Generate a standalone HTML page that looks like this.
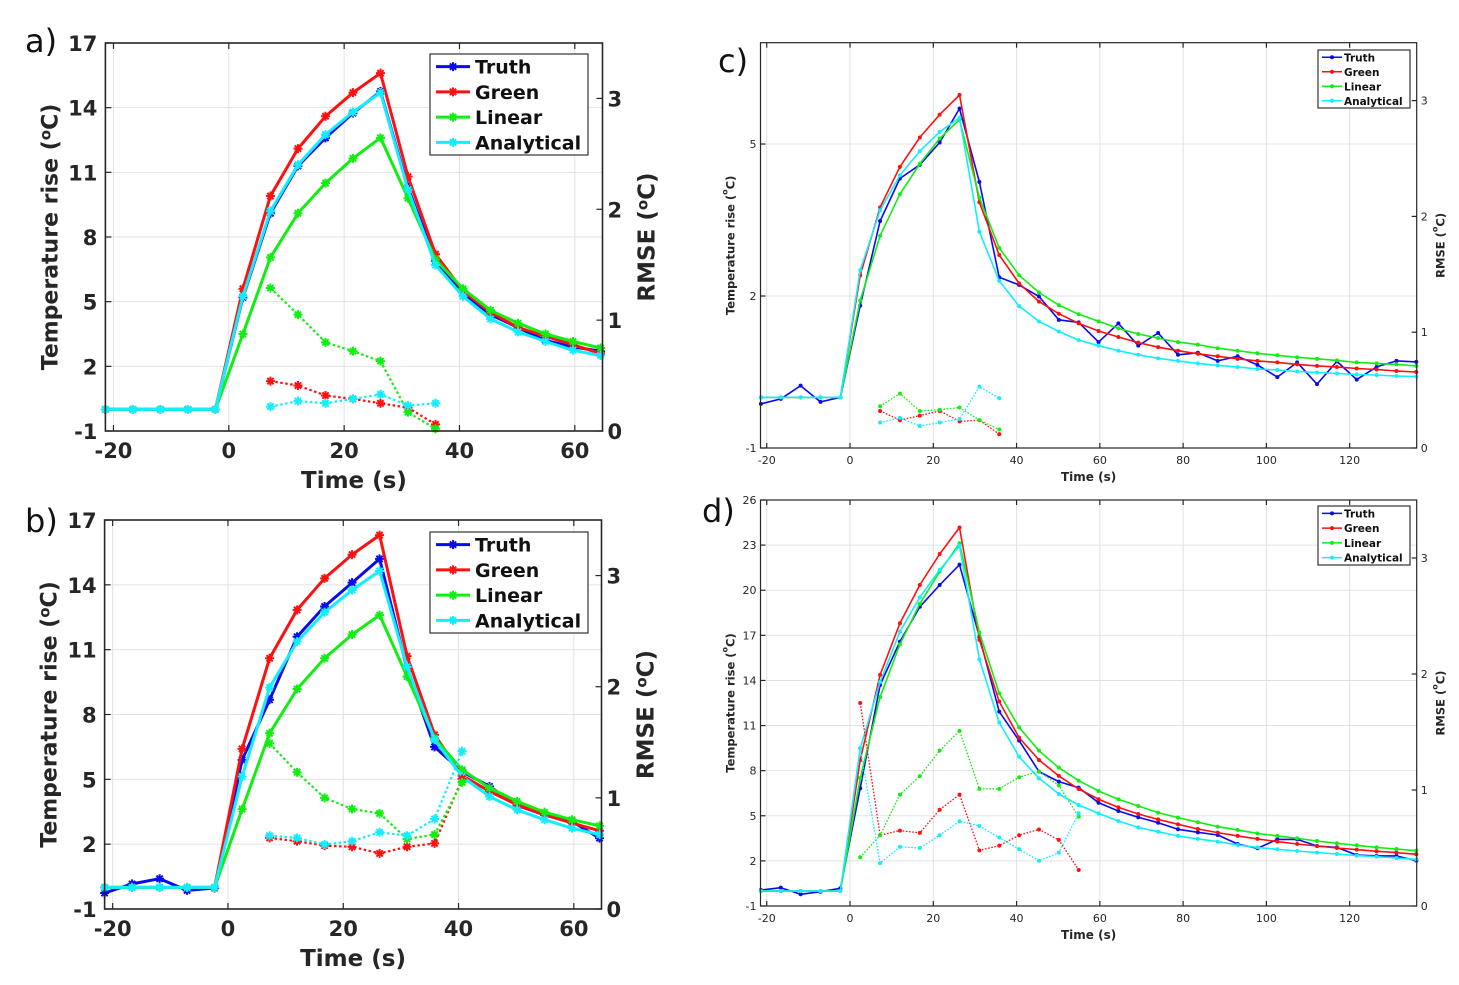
<!DOCTYPE html>
<html><head><meta charset="utf-8"><style>
html,body{margin:0;padding:0;background:#fff;}
svg{display:block;font-family:"DejaVu Sans","Liberation Sans",sans-serif;}
</style></head><body>
<svg id="fig" width="1459" height="985" viewBox="0 0 1459 985" xmlns="http://www.w3.org/2000/svg">
<rect width="1459" height="985" fill="#fff"/>
</svg>
<script>
const times = [-21.4,-16.63,-11.86,-7.09,-2.32,2.45,7.22,11.99,16.76,21.53,26.3,31.07,35.84,40.61,45.38,50.15,54.92,59.69,64.46,69.23,74,78.77,83.54,88.31,93.08,97.85,102.62,107.39,112.16,116.93,121.7,126.47,131.24,136.01];
const abXTicks=[-20,0,20,40,60];
const abYTicks=[-1,2,5,8,11,14,17];
const abRTicks=[0,1,2,3];
const cdXTicks=[-20,0,20,40,60,80,100,120];
const cYTicks=[-1,2,5];
const dYTicks=[-1,2,5,8,11,14,17,20,23,26];
const cdRTicks=[0,1,2,3];
const seriesNames=["Truth","Green","Linear","Analytical"];

// Panel a
const aTruth=[0,0,0,0,0,5.2,9.1,11.3,12.6,13.75,14.75,10.3,6.9,5.4,4.4,3.8,3.2,2.9,2.7];
const aGreen=[0,0,0,0,0,5.6,9.9,12.1,13.6,14.7,15.6,10.8,7.2,5.5,4.5,3.8,3.4,3.0,2.6];
const aLinear=[0,0,0,0,0,3.5,7.05,9.1,10.5,11.65,12.6,9.8,6.95,5.6,4.6,4.0,3.5,3.15,2.85];
const aAnalytical=[0,0,0,0,0,5.25,9.2,11.35,12.75,13.8,14.7,10.2,6.7,5.25,4.2,3.6,3.15,2.75,2.5];
const aRmseGreen=[1.29,1.05,0.80,0.72,0.63,0.17,0.02];
const aRmseRed=[0.45,0.41,0.32,0.29,0.25,0.21,0.06];
const aRmseCyan=[0.22,0.27,0.25,0.29,0.33,0.23,0.25];
// Panel b
const bTruth=[-0.26,0.16,0.40,-0.14,-0.03,5.9,8.68,11.6,13.0,14.1,15.2,10.1,6.5,5.36,4.67,3.8,3.35,3.05,2.28];
const bGreen=[0,0,0,0,0,6.41,10.6,12.84,14.3,15.4,16.3,10.7,7.06,5.18,4.44,3.82,3.36,2.98,2.62];
const bLinear=[0,0,0,0,0,3.62,7.13,9.18,10.6,11.7,12.6,9.75,6.9,5.44,4.6,3.98,3.48,3.13,2.85];
const bAnalytical=[0,0,0,0,0,5.13,9.25,11.37,12.73,13.76,14.64,10.2,6.83,5.13,4.2,3.59,3.13,2.74,2.44];
const bRmseGreen=[1.49,1.23,1.0,0.90,0.86,0.63,0.67,1.14];
const bRmseRed=[0.64,0.61,0.57,0.56,0.50,0.56,0.59,1.17];
const bRmseCyan=[0.66,0.64,0.58,0.61,0.69,0.66,0.81,1.42];
// Panel c
const cTruth=[-0.13,-0.03,0.23,-0.09,0,1.81,3.48,4.32,4.59,5.03,5.7,4.25,2.37,2.22,1.99,1.53,1.48,1.09,1.46,1.02,1.27,0.84,0.88,0.72,0.81,0.64,0.40,0.69,0.26,0.71,0.35,0.60,0.72,0.70];
const cGreen=[0,0,0,0,0,2.41,3.75,4.55,5.13,5.58,5.97,3.85,2.81,2.25,1.89,1.65,1.46,1.31,1.19,1.08,0.99,0.92,0.86,0.81,0.76,0.72,0.69,0.65,0.62,0.60,0.57,0.55,0.52,0.50];
const cLinear=[0,0,0,0,0,1.91,3.19,4.01,4.61,5.11,5.48,3.94,2.95,2.41,2.07,1.82,1.64,1.50,1.36,1.25,1.17,1.09,1.04,0.97,0.92,0.87,0.83,0.79,0.76,0.73,0.69,0.67,0.65,0.62];
const cAnalytical=[0,0,0,0,0,2.51,3.69,4.38,4.86,5.24,5.52,3.27,2.30,1.80,1.50,1.30,1.13,1.02,0.92,0.84,0.77,0.72,0.67,0.63,0.60,0.56,0.54,0.51,0.49,0.47,0.45,0.44,0.42,0.41];
const cRmseGreen=[0.36,0.47,0.32,0.33,0.35,0.24,0.16];
const cRmseRed=[0.32,0.24,0.28,0.32,0.23,0.24,0.12];
const cRmseCyan=[0.22,0.26,0.19,0.22,0.25,0.53,0.43];
// Panel d
const dTruth=[0.06,0.22,-0.22,-0.05,0.18,6.83,13.7,16.58,18.9,20.35,21.7,16.9,11.93,10.0,7.94,7.27,6.87,5.87,5.32,4.9,4.54,4.1,3.9,3.72,3.12,2.84,3.43,3.43,2.99,2.9,2.39,2.33,2.33,2.02];
const dGreen=[0,0,0,0,0,8.71,14.37,17.8,20.35,22.41,24.17,16.7,12.6,10.2,8.71,7.65,6.78,6.1,5.56,5.12,4.76,4.43,4.12,3.88,3.66,3.46,3.28,3.12,2.99,2.86,2.75,2.64,2.55,2.44];
const dLinear=[0,0,0,0,0,7.5,12.9,16.4,19.1,21.24,23.12,17.18,13.15,10.88,9.33,8.2,7.34,6.65,6.1,5.65,5.21,4.88,4.57,4.28,4.06,3.83,3.66,3.5,3.32,3.17,3.04,2.9,2.79,2.68];
const dAnalytical=[0,0,0,0,0,9.49,13.9,17.25,19.53,21.35,22.95,15.4,11.2,8.93,7.49,6.45,5.72,5.16,4.65,4.23,3.94,3.66,3.46,3.28,3.06,2.9,2.77,2.66,2.55,2.46,2.35,2.28,2.19,2.1];
const dRmseRed=[1.75,0.61,0.65,0.63,0.83,0.96,0.48,0.52,0.61,0.66,0.57,0.31];
const dRmseGreen=[0.42,0.61,0.96,1.12,1.34,1.51,1.01,1.01,1.11,1.16,1.04,0.77];
const dRmseCyan=[1.36,0.37,0.51,0.5,0.61,0.73,0.69,0.59,0.49,0.39,0.46,0.8];

const COLORS={Truth:"#0a0af0",Green:"#ff0f0f",Linear:"#11ee11",Analytical:"#11eeff"};
const NS="http://www.w3.org/2000/svg";
const svg=document.getElementById('fig');
function mk(tag,attrs,parent){const e=document.createElementNS(NS,tag);for(const k in attrs)e.setAttribute(k,attrs[k]);(parent||svg).appendChild(e);return e;}

function panel(cfg){
  const g=mk('g',{});
  
  
  const xs=v=>cfg.L+(v-cfg.xmin)/(cfg.xmax-cfg.xmin)*(cfg.R-cfg.L);
  const ys=v=>cfg.B-(v-cfg.ymin)/(cfg.ymax-cfg.ymin)*(cfg.B-cfg.T);
  const rs=v=>cfg.B-v/cfg.rmax*(cfg.B-cfg.T);
  const big=cfg.big;
  cfg.xticks.forEach(t=>{const l=mk('line',{x1:xs(t),x2:xs(t),y1:cfg.T,y2:cfg.B,stroke:'#e2e2e2','stroke-width':1},g);
    });
  cfg.yticks.forEach(t=>{const l=mk('line',{x1:cfg.L,x2:cfg.R,y1:ys(t),y2:ys(t),stroke:'#e2e2e2','stroke-width':1},g);
    });
  const series=[["Truth",cfg.truth],["Green",cfg.green],["Linear",cfg.linear],["Analytical",cfg.analytical]];
  const lw=big?3:1.6;
  function marker(x,y,col,parent){
    if(big){const s=4.5;
      mk('path',{d:`M${x-s},${y}H${x+s}M${x},${y-s}V${y+s}M${x-s*0.7},${y-s*0.7}L${x+s*0.7},${y+s*0.7}M${x-s*0.7},${y+s*0.7}L${x+s*0.7},${y-s*0.7}`,stroke:col,'stroke-width':2},parent);
    } else mk('circle',{cx:x,cy:y,r:2,fill:col},parent);
  }
  series.forEach(([nm,arr])=>{
    const col=COLORS[nm];
    const sg=mk('g',{},g);
    
    
    const pts=arr.map((v,i)=>xs(times[i]).toFixed(1)+','+ys(v).toFixed(1)).join(' ');
    mk('polyline',{points:pts,fill:'none',stroke:col,'stroke-width':lw,'stroke-linejoin':'round'},sg);
    arr.forEach((v,i)=>marker(xs(times[i]),ys(v),col,sg));
  });
  [["Green",cfg.rRed],["Linear",cfg.rGreen],["Analytical",cfg.rCyan]].forEach(([nm,arr])=>{
    const col=COLORS[nm];
    const sg=mk('g',{},g);
    
    
    const pts=arr.map((v,i)=>xs(times[cfg.rStart+i]).toFixed(1)+','+rs(v).toFixed(1)).join(' ');
    mk('polyline',{points:pts,fill:'none',stroke:col,'stroke-width':big?2.2:1.3,'stroke-dasharray':big?'2.5,2.5':'1.6,1.6'},sg);
    arr.forEach((v,i)=>marker(xs(times[cfg.rStart+i]),rs(v),col,sg));
  });
  const fr=mk('rect',{x:cfg.L,y:cfg.T,width:cfg.R-cfg.L,height:cfg.B-cfg.T,fill:'none',stroke:'#262626','stroke-width':big?1.6:1.2},g);
  
  const tl=big?6:5, fs=big?21:11;
  cfg.xticks.forEach(t=>{
    mk('line',{x1:xs(t),x2:xs(t),y1:cfg.B,y2:cfg.B-tl,stroke:'#262626','stroke-width':1.2},g);
    mk('line',{x1:xs(t),x2:xs(t),y1:cfg.T,y2:cfg.T+tl,stroke:'#262626','stroke-width':1.2},g);
    const tx=mk('text',{x:xs(t),y:cfg.B+(big?27:16),'text-anchor':'middle','font-size':fs,'font-weight':big?'bold':'normal',fill:'#262626'},g);
    tx.textContent=t;
  });
  cfg.yticks.forEach(t=>{
    mk('line',{x1:cfg.L,x2:cfg.L+tl,y1:ys(t),y2:ys(t),stroke:'#262626','stroke-width':1.2},g);
    const tx=mk('text',{x:cfg.L-(big?8:4),y:ys(t)+(big?8:4),'text-anchor':'end','font-size':fs,'font-weight':big?'bold':'normal',fill:'#262626'},g);
    tx.textContent=t;
  });
  cfg.rticks.forEach(t=>{
    mk('line',{x1:cfg.R,x2:cfg.R-tl,y1:rs(t),y2:rs(t),stroke:'#262626','stroke-width':1.2},g);
    const tx=mk('text',{x:cfg.R+(big?5:4),y:rs(t)+(big?8:4),'text-anchor':'start','font-size':fs,'font-weight':big?'bold':'normal',fill:'#262626'},g);
    tx.textContent=t;
  });
  const cx=(cfg.L+cfg.R)/2, cy=(cfg.T+cfg.B)/2;
  const xt=mk('text',{x:cx,y:cfg.B+(big?57:33),'text-anchor':'middle','font-size':big?23:12,'font-weight':'bold',fill:'#262626'},g);
  xt.textContent='Time (s)';
  const ylx=cfg.L-(big?48:26);
  const yt=mk('text',{x:ylx,y:cy,'text-anchor':'middle','font-size':big?22:11.5,'font-weight':'bold',fill:'#262626',transform:`rotate(-90 ${ylx} ${cy})`},g);
  yt.innerHTML='Temperature rise (<tspan dy="-7" font-size="'+(big?15:8)+'">o</tspan><tspan dy="7">C)</tspan>';
  
  const rlx=cfg.R+(big?52:28);
  const rt=mk('text',{x:rlx,y:cy,'text-anchor':'middle','font-size':big?23:11.5,'font-weight':'bold',fill:'#262626',transform:`rotate(-90 ${rlx} ${cy})`},g);
  rt.innerHTML='RMSE (<tspan dy="-7" font-size="'+(big?15:8)+'">o</tspan><tspan dy="7">C)</tspan>';
  
  const pl=mk('text',{x:cfg.lx,y:cfg.ly,'font-size':32,fill:'#111'},g);
  pl.textContent=cfg.id+')';
  const lg=mk('g',{},g);
  
  
  const [bx,by,bw,bh]=cfg.leg;
  mk('rect',{x:bx,y:by,width:bw,height:bh,fill:'#fff',stroke:'#333','stroke-width':1.2},lg);
  const rowH=bh/4;
  seriesNames.forEach((nm,i)=>{
    const ry=by+rowH*(i+0.5);
    const e=mk('g',{},lg);
    
    
    const l0=bx+(big?6:4), l1=bx+(big?40:24);
    mk('line',{x1:l0,x2:l1,y1:ry,y2:ry,stroke:COLORS[nm],'stroke-width':big?3:1.5},e);
    marker((l0+l1)/2,ry,COLORS[nm],e);
    const t=mk('text',{x:l1+(big?5:2),y:ry+(big?7:4),'font-size':big?19:10.5,'font-weight':'bold',fill:'#111'},e);
    t.textContent=nm;
  });
}

panel({id:'a',big:true,L:105.4,R:602.5,T:43,B:431,xmin:-21.4,xmax:64.8,ymin:-1,ymax:17,rmax:3.5,
  xticks:abXTicks,yticks:abYTicks,rticks:abRTicks,truth:aTruth,green:aGreen,linear:aLinear,analytical:aAnalytical,
  rRed:aRmseRed,rGreen:aRmseGreen,rCyan:aRmseCyan,rStart:6,lx:25,ly:52,leg:[430,54,158,101]});
panel({id:'b',big:true,L:104.6,R:601.5,T:520,B:909,xmin:-21.4,xmax:64.8,ymin:-1,ymax:17,rmax:3.5,
  xticks:abXTicks,yticks:abYTicks,rticks:abRTicks,truth:bTruth,green:bGreen,linear:bLinear,analytical:bAnalytical,
  rRed:bRmseRed,rGreen:bRmseGreen,rCyan:bRmseCyan,rStart:6,lx:25,ly:532,leg:[430,532,158,101]});
panel({id:'c',big:false,L:760.5,R:1416.7,T:42.7,B:448,xmin:-21.5,xmax:136.1,ymin:-1,ymax:7,rmax:3.5,
  xticks:cdXTicks,yticks:cYTicks,rticks:cdRTicks,truth:cTruth,green:cGreen,linear:cLinear,analytical:cAnalytical,
  rRed:cRmseRed,rGreen:cRmseGreen,rCyan:cRmseCyan,rStart:6,lx:718,ly:72,leg:[1318,50,92,58]});
panel({id:'d',big:false,L:760.5,R:1416.7,T:500,B:906,xmin:-21.5,xmax:136.1,ymin:-1,ymax:26,rmax:3.5,
  xticks:cdXTicks,yticks:dYTicks,rticks:cdRTicks,truth:dTruth,green:dGreen,linear:dLinear,analytical:dAnalytical,
  rRed:dRmseRed,rGreen:dRmseGreen,rCyan:dRmseCyan,rStart:5,lx:702,ly:522,leg:[1318,506,92,59]});
</script>
</body></html>
